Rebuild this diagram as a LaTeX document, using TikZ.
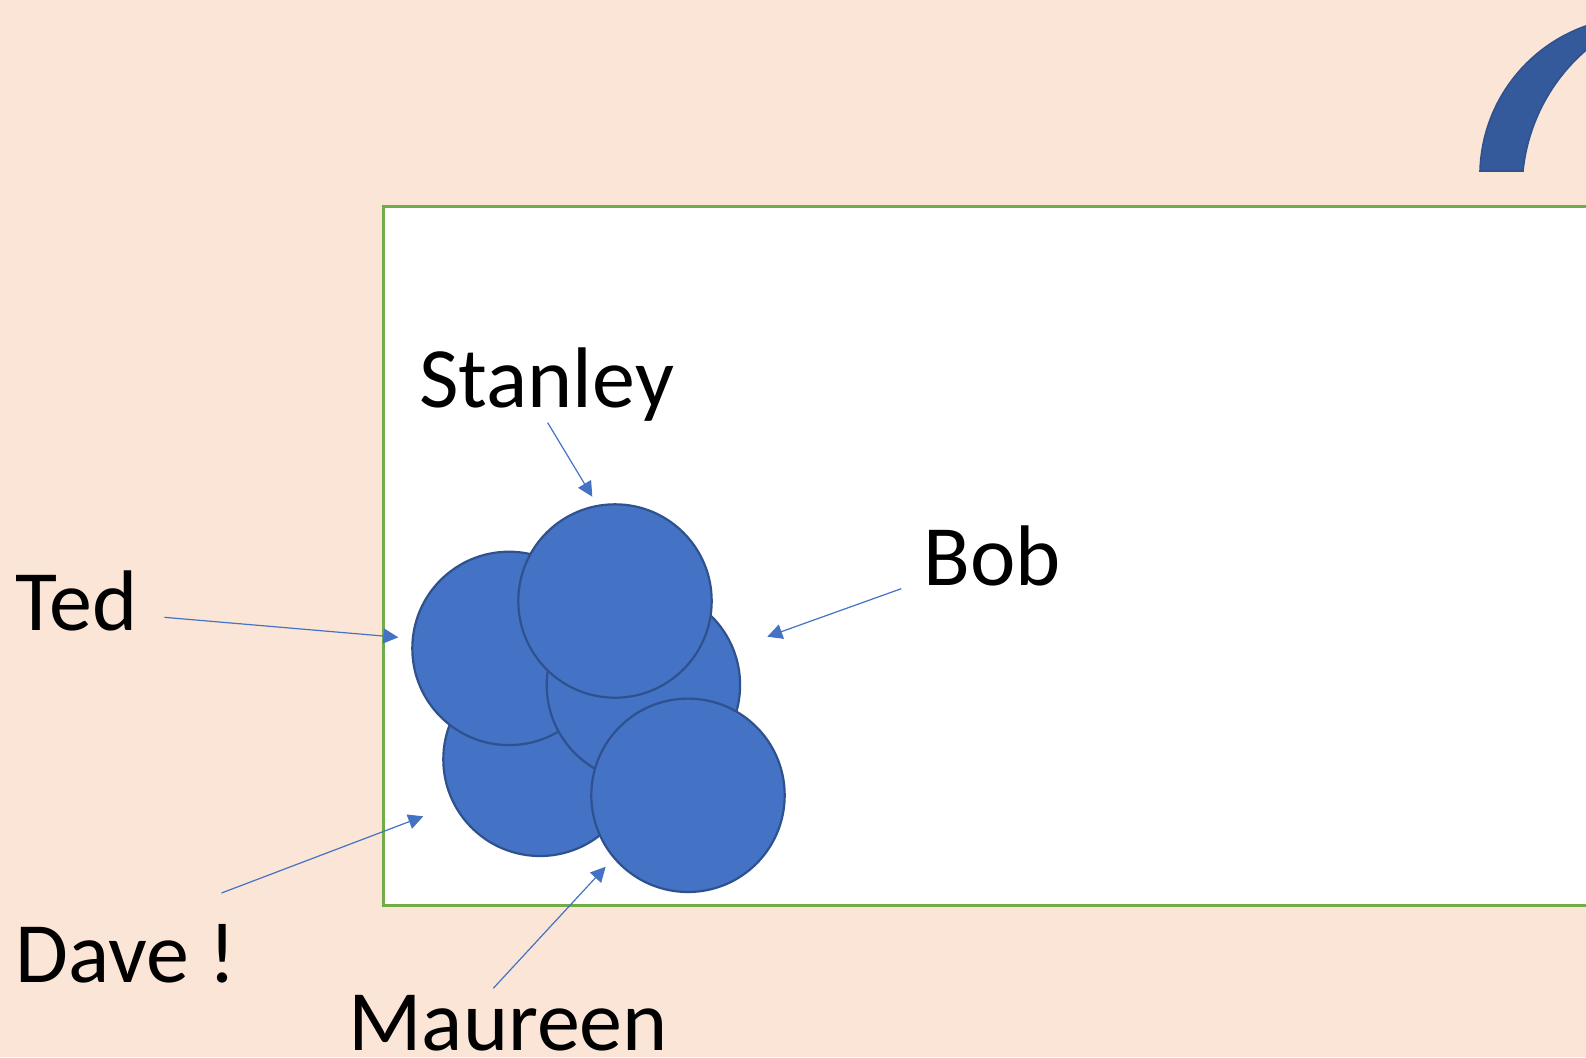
\documentclass[tikz,border=0pt]{standalone}
\usepackage{fontspec}
\setmainfont{Carlito}
\usetikzlibrary{arrows.meta}

\definecolor{peach}{RGB}{251,229,214}
\definecolor{discfill}{RGB}{68,114,196}
\definecolor{discline}{RGB}{47,82,143}
\definecolor{arcfill}{RGB}{52,90,155}
\definecolor{framegreen}{RGB}{112,173,71}

\tikzset{
  disc/.style={circle, fill=discfill, draw=discline, line width=1.1pt,
               minimum size=193.4*0.5pt, inner sep=0pt},
  label text/.style={anchor=base west, inner sep=0pt, text=black,
                     font=\fontsize{43}{52}\selectfont},
  pointer/.style={draw=discfill, line width=0.6pt,
                  -{Triangle[length=7.5pt, width=7.5pt]}},
}

\begin{document}
\begin{tikzpicture}[x=0.5pt, y=-0.5pt]
  % canvas
  \useasboundingbox (0,0) rectangle (1586,1057);
  \fill[peach] (0,0) rectangle (1586,1057);
  \clip (0,0) rectangle (1586,1057);

  % curved band in the top right corner
  \filldraw[fill=arcfill, draw=discline, line width=0.8pt]
    (1480,171) arc[start angle=181.66, end angle=300, radius=158.6]
    -- (1738,8.4) arc[start angle=280, end angle=185.8, radius=184] -- cycle;

  % white field with green frame
  \filldraw[fill=white, draw=framegreen, line width=1.35pt]
    (383.3,206.3) rectangle (1700,905.5);

  % the five discs
  \node[disc] (dave)    at (540,759.3) {};
  \node[disc] (ted)     at (509,648.4) {};
  \node[disc] (bob)     at (643.4,685) {};
  \node[disc] (stanley) at (615,601) {};
  \node[disc] (maureen) at (688,795.3) {};

  % names
  \node[label text] (stanley-name) at (419,407.3) {Stanley};
  \node[label text] (ted-name)     at (15,630)    {Ted};
  \node[label text] (bob-name)     at (923,585)   {Bob};
  \node[label text] (dave-name)    at (15,982.3)  {Dave !};
  \node[label text] (maureen-name) at (348,1050)  {Maureen};

  % pointer ends
  \coordinate (stanley-from) at (547.7,422.7);
  \coordinate (stanley-to)   at (592.3,496.7);
  \coordinate (ted-from)     at (164.3,617.3);
  \coordinate (ted-to)       at (398.3,637.3);
  \coordinate (bob-from)     at (901.2,588.7);
  \coordinate (bob-to)       at (767.3,636.7);
  \coordinate (dave-from)    at (221.5,893);
  \coordinate (dave-to)      at (423.3,816.3);
  \coordinate (maureen-from) at (493.3,988.3);
  \coordinate (maureen-to)   at (605.7,866.7);

  % pointers
  \draw[pointer] (stanley-from) -- (stanley-to);
  \draw[pointer] (ted-from)     -- (ted-to);
  \draw[pointer] (bob-from)     -- (bob-to);
  \draw[pointer] (dave-from)    -- (dave-to);
  \draw[pointer] (maureen-from) -- (maureen-to);
\end{tikzpicture}
\end{document}
